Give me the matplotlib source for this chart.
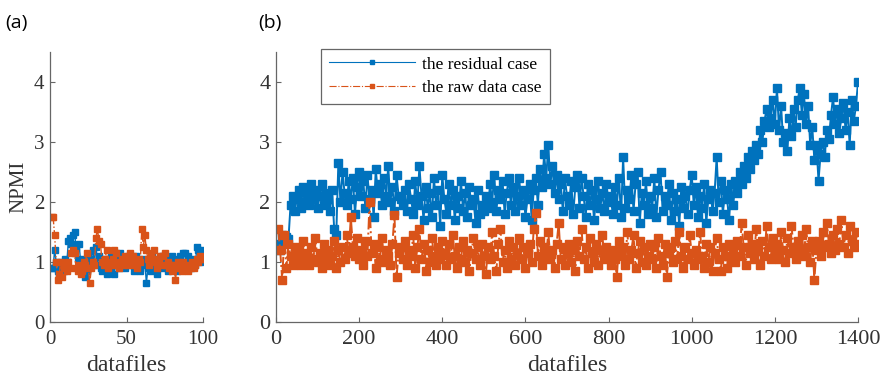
import numpy as np
import matplotlib
matplotlib.use("Agg")
from matplotlib import pyplot as plt

# panel (a): 100 datafiles
files_a = np.arange(1, 101)
residual_a = [0.90, 0.90, 1.20, 1.00, 0.85, 0.80, 0.95, 1.00, 0.85, 1.05,
              1.00, 1.35, 1.40, 1.30, 1.45, 1.50, 1.25, 1.05, 1.30, 1.00,
              0.90, 1.05, 0.75, 0.85, 1.10, 0.95, 1.05, 1.20, 1.00, 1.25,
              0.95, 1.10, 0.90, 0.85, 1.05, 0.95, 0.80, 1.00, 0.85, 1.10,
              0.95, 0.80, 1.05, 1.00, 0.90, 1.15, 0.95, 1.05, 0.90, 1.00,
              1.10, 0.95, 1.00, 1.05, 0.85, 1.10, 0.90, 1.00, 0.85, 0.95,
              1.05, 1.00, 0.65, 0.90, 1.00, 0.85, 1.10, 0.95, 1.00, 0.80,
              1.05, 0.95, 1.10, 0.90, 1.00, 0.95, 0.85, 1.05, 0.90, 1.10,
              0.95, 1.05, 0.85, 1.00, 1.10, 0.90, 1.15, 1.15, 1.00, 1.10,
              0.95, 0.90, 1.05, 1.00, 0.95, 1.25, 1.20, 1.00, 1.15, 1.20]
raw_a = [1.75, 1.75, 1.45, 1.00, 0.70, 0.80, 1.00, 0.75, 0.90, 0.95,
         0.85, 1.00, 0.90, 1.15, 1.20, 1.15, 0.90, 0.85, 0.95, 0.80,
         0.85, 1.00, 0.95, 1.15, 0.90, 0.65, 0.90, 1.00, 0.95, 1.40,
         1.55, 1.35, 1.30, 1.00, 0.95, 1.05, 1.20, 0.90, 1.00, 0.95,
         1.05, 1.20, 1.15, 0.95, 0.90, 1.00, 1.05, 0.95, 1.10, 1.00,
         0.95, 1.15, 1.05, 1.10, 0.95, 1.00, 0.90, 1.05, 1.00, 1.55,
         1.25, 1.45, 1.20, 1.05, 0.95, 1.15, 1.05, 1.20, 1.00, 0.90,
         1.05, 1.10, 0.95, 1.10, 1.15, 0.95, 1.00, 0.90, 0.95, 0.85,
         0.95, 0.70, 0.90, 1.00, 0.95, 0.85, 1.00, 0.90, 0.95, 0.85,
         0.90, 0.95, 1.00, 0.90, 0.95, 1.05, 1.00, 1.10, 1.05, 1.05]

# panel (b): 1400 datafiles, read every 5th file
files_b = np.arange(5, 1401, 5)
residual_b = [
    1.30, 1.20, 1.45, 1.35, 1.42, 1.38, 1.95, 2.10, 1.85, 2.05, 2.20, 1.90, 2.25, 2.00, 2.15, 1.95, 2.30, 2.05, 2.20, 1.90,
    2.10, 2.30, 1.95, 2.15, 2.05, 1.85, 2.20, 1.55, 1.45, 2.65, 2.00, 2.50, 2.15, 1.95, 2.35, 2.05, 2.40, 1.80, 2.25, 2.50,
    2.10, 2.35, 1.90, 2.45, 2.05, 2.20, 1.75, 2.55, 2.15, 2.30, 1.95, 2.40, 2.10, 2.60, 2.00, 2.25, 1.85, 2.45, 2.10, 2.05,
    1.95, 2.20, 1.85, 2.30, 2.05, 1.80, 2.35, 1.95, 2.60, 2.10, 1.70, 2.25, 1.90, 2.15, 1.75, 2.40, 1.95, 2.20, 1.60, 2.45,
    2.05, 1.80, 2.30, 1.95, 2.20, 1.70, 2.10, 1.90, 2.35, 1.85, 2.15, 1.75, 2.25, 1.95, 2.05, 1.65, 2.20, 1.80, 1.95, 1.85,
    2.10, 1.90, 2.30, 2.00, 2.45, 1.85, 2.20, 2.05, 2.35, 1.80, 2.15, 2.40, 1.95, 2.25, 1.85, 2.10, 2.40, 1.95, 2.20, 1.75,
    2.05, 2.30, 1.70, 2.20, 2.40, 1.95, 2.55, 2.25, 2.80, 2.40, 2.95, 2.30, 2.60, 2.15, 2.45, 2.05, 2.30, 1.85, 2.40, 2.10,
    1.95, 2.35, 1.80, 2.25, 2.45, 1.90, 2.40, 2.10, 1.75, 2.30, 1.95, 2.20, 1.70, 2.05, 2.35, 1.90, 2.15, 1.85, 2.30, 2.00,
    2.10, 1.80, 2.25, 1.95, 2.40, 1.75, 2.75, 1.90, 2.20, 2.05, 2.45, 1.85, 2.30, 2.50, 1.65, 2.15, 1.95, 2.35, 1.80, 2.10,
    1.90, 2.40, 1.75, 2.20, 2.50, 1.85, 2.10, 1.95, 2.30, 1.70, 2.15, 1.85, 2.05, 1.60, 2.25, 1.90, 2.10, 1.80, 2.20, 2.45,
    1.95, 2.25, 1.75, 2.10, 1.90, 2.30, 1.65, 2.05, 2.20, 1.85, 2.15, 2.75, 2.00, 2.35, 1.80, 2.20, 2.05, 1.70, 2.30, 1.95,
    2.35, 2.15, 2.50, 2.30, 2.60, 2.40, 2.75, 2.55, 2.85, 2.70, 2.95, 2.80, 3.20, 3.00, 3.35, 3.55, 3.25, 3.40, 3.70, 3.30,
    3.90, 3.20, 3.60, 3.00, 3.15, 2.85, 3.40, 3.10, 3.55, 3.25, 3.70, 3.90, 3.45, 3.80, 3.30, 3.60, 2.95, 3.25, 2.70, 2.95,
    2.35, 2.80, 3.00, 2.75, 3.20, 3.05, 3.45, 3.75, 3.30, 3.55, 3.15, 3.40, 3.65, 3.20, 3.50, 2.95, 3.70, 3.35, 3.60, 4.00]
raw_b = [
    1.55, 1.20, 0.70, 1.45, 0.90, 1.30, 1.10, 0.95, 1.25, 1.05, 1.20, 0.95, 1.35, 1.10, 1.15, 0.95, 1.25, 1.05, 1.40, 1.00,
    1.15, 0.90, 1.30, 1.05, 1.20, 0.95, 1.10, 1.35, 0.90, 1.20, 1.00, 1.25, 1.05, 1.45, 1.15, 1.75, 1.25, 1.10, 1.40, 1.05,
    1.20, 0.95, 1.35, 1.10, 2.00, 1.15, 1.30, 0.90, 1.25, 1.05, 1.40, 1.00, 1.20, 1.10, 0.95, 1.30, 1.78, 0.75, 1.15, 1.25,
    1.05, 1.35, 0.95, 1.20, 1.10, 1.45, 0.90, 1.25, 1.55, 1.05, 1.30, 0.85, 1.20, 1.00, 1.40, 1.10, 0.95, 1.25, 1.05, 1.35,
    1.15, 0.95, 1.30, 1.05, 1.45, 1.10, 0.90, 1.25, 1.05, 1.35, 1.00, 1.20, 0.85, 1.15, 1.40, 1.05, 1.25, 0.95, 1.30, 1.10,
    0.80, 1.25, 1.05, 1.50, 1.10, 0.85, 1.30, 1.55, 1.00, 1.20, 0.90, 1.35, 1.05, 1.25, 0.95, 1.15, 1.40, 1.05, 1.25, 0.90,
    1.15, 1.30, 1.00, 1.55, 1.82, 1.10, 1.35, 0.95, 1.25, 1.10, 1.50, 1.05, 1.20, 0.90, 1.30, 1.65, 1.05, 1.25, 0.95, 1.15,
    1.30, 1.00, 1.20, 0.85, 1.35, 1.10, 1.55, 1.05, 1.25, 0.90, 1.40, 1.15, 1.00, 1.30, 0.95, 1.20, 1.45, 1.05, 1.25, 1.10,
    0.95, 1.20, 1.05, 0.75, 1.35, 1.10, 1.25, 0.95, 1.50, 1.05, 1.20, 1.45, 0.90, 1.15, 1.35, 1.00, 1.25, 0.95, 1.10, 1.30,
    1.05, 1.25, 0.90, 1.40, 1.10, 0.95, 1.30, 0.75, 1.15, 1.25, 1.00, 1.35, 1.05, 1.50, 1.10, 0.90, 1.25, 1.05, 1.45, 1.15,
    0.95, 1.20, 1.05, 1.50, 1.10, 0.90, 1.30, 1.00, 1.25, 0.85, 1.15, 1.40, 1.05, 0.85, 1.25, 1.10, 0.90, 1.30, 1.05, 1.20,
    1.00, 1.35, 1.10, 1.65, 1.25, 0.95, 1.45, 1.15, 1.30, 1.05, 1.55, 1.20, 0.95, 1.35, 1.10, 1.60, 1.25, 1.05, 1.40, 1.15,
    1.30, 1.05, 1.50, 1.20, 1.00, 1.40, 1.15, 1.60, 1.25, 1.05, 1.35, 1.20, 1.45, 1.10, 1.55, 1.25, 1.00, 1.35, 0.70, 1.20,
    1.35, 1.10, 1.50, 1.25, 1.65, 1.30, 1.15, 1.45, 1.20, 1.55, 1.30, 1.70, 1.25, 1.45, 1.15, 1.60, 1.35, 1.25, 1.50, 1.30]

blue = '#0072BD'
orange = '#D95319'

plt.rcParams['font.family'] = ['Liberation Serif', 'DejaVu Serif']
fig = plt.figure(figsize=(8.84, 3.77), dpi=100)
ax_a = fig.add_axes([0.0566, 0.146, 0.173, 0.716])
ax_b = fig.add_axes([0.3122, 0.146, 0.6584, 0.716])

def style(ax, xmax, xticks, size):
    ax.set_xlim(0, xmax)
    ax.set_ylim(0, 4.5)
    ax.set_xticks(xticks)
    ax.set_yticks([0, 1, 2, 3, 4])
    for s in ['top', 'right']:
        ax.spines[s].set_visible(False)
    for s in ['left', 'bottom']:
        ax.spines[s].set_color('#666666')
        ax.spines[s].set_linewidth(0.9)
    ax.tick_params(direction='in', length=3.5, width=0.8, color='#666666',
                   labelsize=size, labelcolor='#333333')
    ax.tick_params(axis='x', pad=6)
    ax.tick_params(axis='y', pad=4)
    ax.set_xlabel('datafiles', fontsize=17, color='#333333', labelpad=4)

ax_a.plot(files_a, residual_a, '-s', color=blue, lw=1.0, ms=4.4)
ax_a.plot(files_a, raw_a, '-.s', color=orange, lw=1.0, ms=4.4)
style(ax_a, 100, [0, 50, 100], 15)
ax_a.set_ylabel('NPMI', fontsize=15, color='#333333', labelpad=4)

ax_b.plot(files_b, residual_b, '-s', color=blue, lw=1.4, ms=5.5,
          label='the residual case')
ax_b.plot(files_b, raw_b, '-.s', color=orange, lw=1.4, ms=5.5,
          label='the raw data case')
style(ax_b, 1400, [0, 200, 400, 600, 800, 1000, 1200, 1400], 16)
leg = ax_b.legend(loc='upper left', bbox_to_anchor=(0.062, 1.045),
                  fontsize=12.5, handlelength=5.0, fancybox=False,
                  framealpha=1, borderpad=0.45, labelspacing=0.45,
                  handletextpad=0.4, markerscale=0.6)
leg.get_frame().set_edgecolor('#666666')
leg.get_frame().set_linewidth(0.9)
for h in leg.get_lines():
    h.set_linewidth(0.8)

fig.text(0.006, 0.94, '(a)', fontsize=14, family=['Open Sans', 'DejaVu Sans'], va='center')
fig.text(0.292, 0.94, '(b)', fontsize=14, family=['Open Sans', 'DejaVu Sans'], va='center')

fig.savefig('out.png', dpi=100)
